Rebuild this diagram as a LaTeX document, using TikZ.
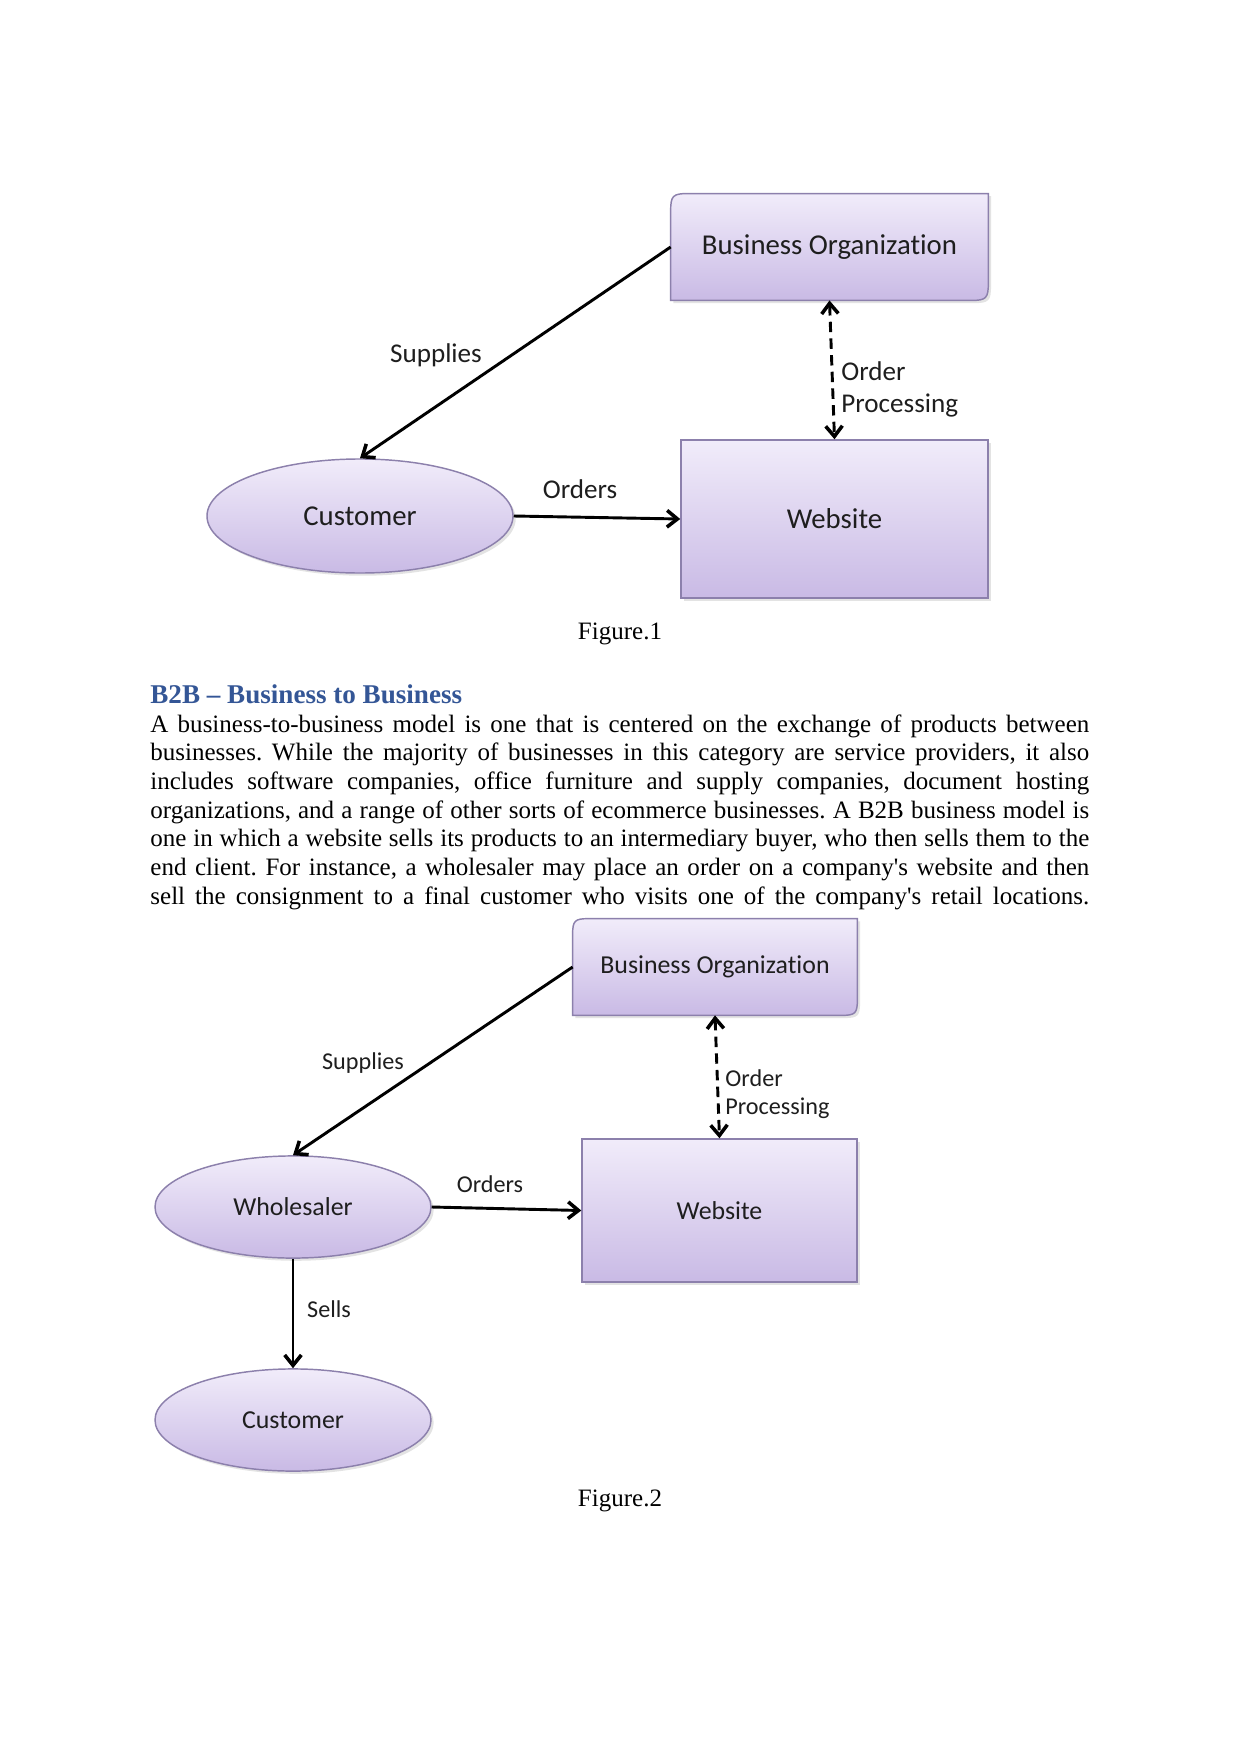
\documentclass[tikz,border=0pt]{standalone}
\usepackage{fontspec}
\setmainfont{Liberation Serif}
\newfontfamily\diafont[Ligatures=NoCommon]{Carlito}
\usetikzlibrary{arrows.meta,shadows,calc,shapes.geometric}
\definecolor{boxtop}{RGB}{241,236,250}
\definecolor{boxbot}{RGB}{201,186,229}
\definecolor{boxline}{RGB}{140,128,172}
\definecolor{headblue}{RGB}{52,86,150}
\definecolor{diatext}{RGB}{30,30,30}
\pgfdeclarelayer{bg}
\pgfsetlayers{bg,main}
\frenchspacing
\begin{document}
\begin{tikzpicture}[x=0.4797pt,y=-0.4797pt,
  entity/.style={draw=boxline, line width=0.7pt, top color=boxtop, bottom color=boxbot,
    drop shadow={shadow xshift=1.3pt,shadow yshift=-1.3pt,opacity=0.22}},
  rectbox/.style={entity, rectangle, inner sep=0pt, font=#1, text=diatext},
  ellbox/.style={entity, ellipse, inner sep=0pt, font=#1, text=diatext},
  ghost/.style={rectangle, inner sep=0pt, font=#1, text=diatext},
  tip/.style={Straight Barb[length=5pt,width=8pt,line width=1.7pt]},
  conn/.style={line width=1.4pt, -{Straight Barb[length=5pt,width=8pt,line width=1.7pt]}},
  dashconn/.style={line width=1.4pt, dash pattern=on 5pt off 3pt,
    {Straight Barb[length=5pt,width=8pt,line width=1.7pt]}-{Straight Barb[length=5pt,width=8pt,line width=1.7pt]}},
  lbl/.style={inner sep=0pt, font=#1, text=diatext},
  bodyline/.style={inner sep=0pt, anchor=base west, font=\fontsize{12}{14}\selectfont},
  caption/.style={inner sep=0pt, anchor=base, font=\fontsize{12}{14}\selectfont}
]
\begin{pgfonlayer}{bg}
\fill[white] (0,0) rectangle (1241,1754);
\end{pgfonlayer}
\useasboundingbox (0,0) rectangle (1241,1754);

% ---------------- Figure 1 ----------------
\node[ghost=\fontsize{13.8}{16}\diafont, minimum width=152pt, minimum height=50.9pt] (bo1) at (829.5,247) {Business Organization};
\begin{pgfonlayer}{bg}
\path[entity] (bo1.south west) -- ($(bo1.north west)+(0,18)$) .. controls ($(bo1.north west)+(0,2)$) and ($(bo1.north west)+(2,0)$) .. ($(bo1.north west)+(18,0)$)
  -- (bo1.north east) -- ($(bo1.south east)+(0,-18)$) .. controls ($(bo1.south east)+(0,-2)$) and ($(bo1.south east)+(-2,0)$) .. ($(bo1.south east)+(-18,0)$) -- cycle;
\end{pgfonlayer}
\node[rectbox=\fontsize{13.8}{16}\diafont, minimum width=147.3pt, minimum height=75.8pt] (web1) at (834.5,519) {Website};
\node[ellbox=\fontsize{13.8}{16}\diafont, minimum width=146.8pt, minimum height=54.7pt] (cust1) at (360,516) {Customer};

\draw[conn] (bo1.west) -- (cust1.north);
\draw[conn] (cust1.east) -- (web1.west);
\draw[dashconn] (bo1.south) -- (web1.north);

\node[lbl=\fontsize{13}{15}\diafont] (sup1) at (436,355) {Supplies};
\node[lbl=\fontsize{13}{15}\diafont] (ord1) at (580,489) {Orders};
\node[lbl=\fontsize{13}{15}\diafont, anchor=west, align=left] (op1) at (841,389) {Order\\[0.3pt]Processing};

\node[caption] (fig1) at (620,639) {Figure.1};

% ---------------- Text ----------------
\node[inner sep=0pt, anchor=base west, text=headblue, font=\fontsize{13}{15}\selectfont\bfseries] (head) at (150,703) {B2B – Business to Business};
\node[bodyline] (l1) at (150,732) {\makebox[450.4pt][s]{A business-to-business model is one that is centered on the exchange of products between}};
\node[bodyline] (l2) at (150,760.7) {\makebox[450.4pt][s]{businesses. While the majority of businesses in this category are service providers, it also}};
\node[bodyline] (l3) at (150,789.3) {\makebox[450.4pt][s]{includes software companies, office furniture and supply companies, document hosting}};
\node[bodyline] (l4) at (150,818) {\makebox[450.4pt][s]{organizations, and a range of other sorts of ecommerce businesses. A B2B business model is}};
\node[bodyline] (l5) at (150,846.7) {\makebox[450.4pt][s]{one in which a website sells its products to an intermediary buyer, who then sells them to the}};
\node[bodyline] (l6) at (150,875.3) {\makebox[450.4pt][s]{end client. For instance, a wholesaler may place an order on a company\textquotesingle s website and then}};
\node[bodyline] (l7) at (150,904) {\makebox[450.4pt][s]{sell the consignment to a final customer who visits one of the company\textquotesingle s retail locations.}};

% ---------------- Figure 2 ----------------
\node[ghost=\fontsize{12.4}{15}\diafont, minimum width=136.2pt, minimum height=46pt] (bo2) at (715,967) {Business Organization};
\begin{pgfonlayer}{bg}
\path[entity] (bo2.south west) -- ($(bo2.north west)+(0,16)$) .. controls ($(bo2.north west)+(0,2)$) and ($(bo2.north west)+(2,0)$) .. ($(bo2.north west)+(16,0)$)
  -- (bo2.north east) -- ($(bo2.south east)+(0,-16)$) .. controls ($(bo2.south east)+(0,-2)$) and ($(bo2.south east)+(-2,0)$) .. ($(bo2.south east)+(-16,0)$) -- cycle;
\end{pgfonlayer}
\node[rectbox=\fontsize{12.4}{15}\diafont, minimum width=131.9pt, minimum height=68.6pt] (web2) at (719.5,1210.5) {Website};
\node[ellbox=\fontsize{12.4}{15}\diafont, minimum width=132.4pt, minimum height=49pt] (whole2) at (293,1207) {Wholesaler};
\node[ellbox=\fontsize{12.4}{15}\diafont, minimum width=132.4pt, minimum height=49pt] (cust2) at (293,1420) {Customer};

\draw[conn] (bo2.west) -- (whole2.north);
\draw[conn] (whole2.east) -- (web2.west);
\draw[conn] (whole2.south) -- (cust2.north);
\draw[dashconn] (bo2.south) -- (web2.north);

\node[lbl=\fontsize{11.6}{14}\diafont] (sup2) at (363,1063) {Supplies};
\node[lbl=\fontsize{11.6}{14}\diafont] (ord2) at (490,1184) {Orders};
\node[lbl=\fontsize{11.6}{14}\diafont] (sell2) at (329,1309) {Sells};
\node[lbl=\fontsize{11.6}{13.4}\diafont, anchor=west, align=left] (op2) at (725,1094) {Order\\Processing};

\node[caption] (fig2) at (620,1506) {Figure.2};
\end{tikzpicture}
\end{document}
